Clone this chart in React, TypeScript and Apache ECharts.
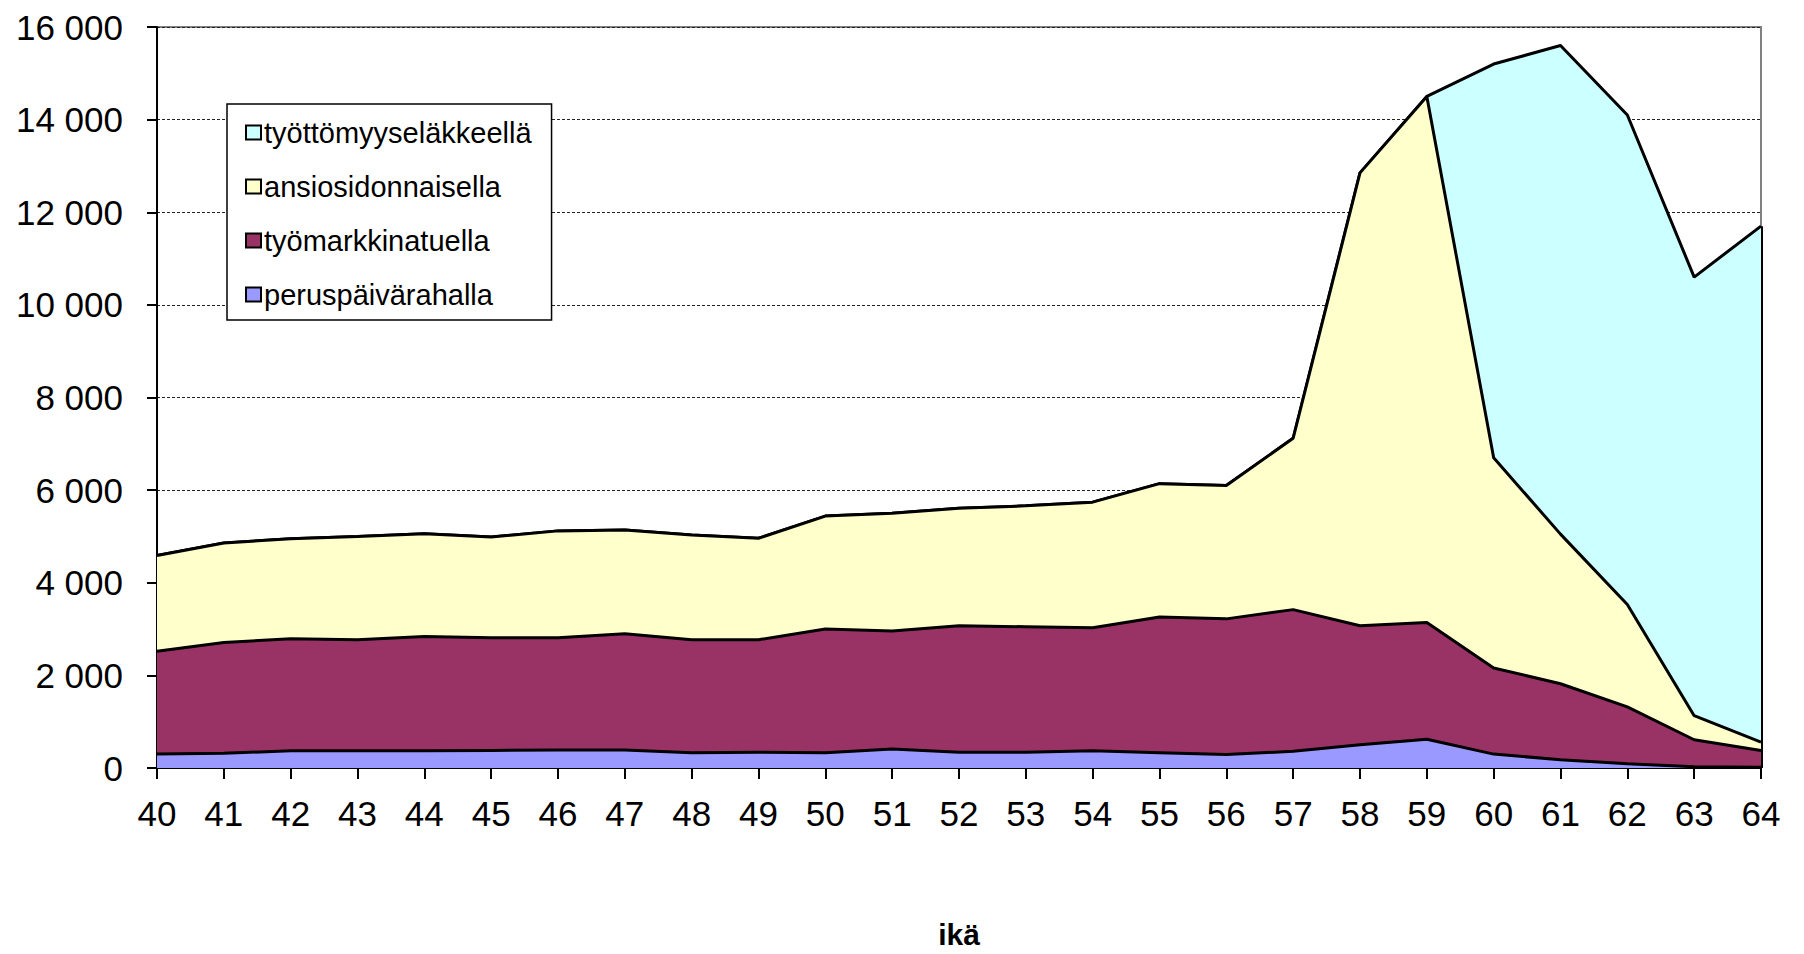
import React, { useEffect, useRef } from "react";
import * as echarts from "echarts";

const ages = ["40","41","42","43","44","45","46","47","48","49","50","51","52","53","54","55","56","57","58","59","60","61","62","63","64"];
const peruspaivarahalla = [300,320,370,370,370,380,390,390,330,340,330,410,340,340,370,330,290,360,500,620,300,180,90,25,15];
const tyomarkkinatuella = [2220,2390,2420,2400,2470,2430,2420,2510,2440,2430,2670,2550,2730,2710,2660,2930,2930,3060,2570,2520,1860,1640,1230,585,365];
const ansiosidonnaisella = [2070,2150,2160,2230,2220,2180,2310,2240,2260,2190,2440,2540,2540,2610,2710,2880,2880,3700,9780,11360,4540,3230,2210,520,180];
const tyottomyyselakkeella = [0,0,0,0,0,0,0,0,0,0,0,0,0,0,0,0,0,0,0,0,8500,10550,10570,9470,11140];

const seriesNames = ["peruspäivärahalla", "työmarkkinatuella", "ansiosidonnaisella", "työttömyyseläkkeellä"];
const seriesColors = ["#9999FF", "#993366", "#FFFFCC", "#CCFFFF"];
const yMin = 0;
const yMax = 16000;
const yInterval = 2000;
const xTitle = "ikä";

const FONT = "'Liberation Sans', Arial, sans-serif";

function fmt(v: number): string {
  return String(v).replace(/\B(?=(\d{3})+(?!\d))/g, " ");
}

export default function App() {
  const ref = useRef<HTMLDivElement>(null);
  useEffect(() => {
    if (!ref.current) return;
    const chart = echarts.init(ref.current, null, { renderer: "svg" });
    const dataSets = [peruspaivarahalla, tyomarkkinatuella, ansiosidonnaisella, tyottomyyselakkeella];
    const lastIdx = ages.length - 1;
    const lastTotal = dataSets.reduce((s, d) => s + d[lastIdx], 0);
    chart.setOption({
      animation: false,
      backgroundColor: "#ffffff",
      textStyle: { fontFamily: FONT },
      grid: {
        left: 157,
        right: 43,
        top: 27,
        bottom: 179,
        show: true,
        borderColor: "#808080",
        borderWidth: 2,
        backgroundColor: "transparent",
      },
      legend: {
        data: [seriesNames[3], seriesNames[2], seriesNames[1], seriesNames[0]],
        orient: "vertical",
        left: 227,
        top: 104,
        padding: [13, 20, 10, 18],
        itemGap: 23,
        itemWidth: 15,
        itemHeight: 14,
        backgroundColor: "#ffffff",
        borderColor: "#000000",
        borderWidth: 1.5,
        borderRadius: 0,
        icon: "rect",
        textStyle: { fontSize: 29, color: "#000", fontFamily: FONT, lineHeight: 31, padding: [0, 0, 0, -2] },
        itemStyle: { borderColor: "#000", borderWidth: 2 },
      },
      xAxis: {
        type: "category",
        data: ages,
        boundaryGap: false,
        name: xTitle,
        nameLocation: "middle",
        nameGap: 151,
        nameTextStyle: { fontSize: 30, fontWeight: "bold", color: "#000", fontFamily: FONT },
        axisLine: { lineStyle: { color: "#000", width: 2 } },
        axisTick: { show: true, length: 11, lineStyle: { color: "#000", width: 2 }, interval: 0 },
        axisLabel: { fontSize: 35, color: "#000", margin: 28, interval: 0, fontFamily: FONT },
        splitLine: { show: false },
      },
      yAxis: {
        type: "value",
        min: yMin,
        max: yMax,
        interval: yInterval,
        axisLine: { show: true, lineStyle: { color: "#000", width: 2 } },
        axisTick: { show: true, length: 10, lineStyle: { color: "#000", width: 2 } },
        axisLabel: { fontSize: 35, color: "#000", margin: 34, formatter: (v: number) => fmt(v), fontFamily: FONT },
        splitLine: { show: true, lineStyle: { color: "#222", width: 1.2, type: [3, 2] } },
      },
      series: dataSets.map((d, i) => ({
        name: seriesNames[i],
        type: "line",
        stack: "total",
        data: d,
        showSymbol: false,
        symbol: "none",
        lineStyle: { color: "#000", width: 3 },
        itemStyle: { color: seriesColors[i], borderColor: "#000", borderWidth: 2 },
        areaStyle: { color: seriesColors[i], opacity: 1 },
        z: 10 - i,
        markLine: i === 3 ? {
          silent: true,
          symbol: "none",
          label: { show: false },
          lineStyle: { color: "#000", width: 3, type: "solid" },
          data: [[{ xAxis: ages[lastIdx], yAxis: 0 }, { xAxis: ages[lastIdx], yAxis: lastTotal }]],
        } : undefined,
      })),
    });
    return () => chart.dispose();
  }, []);
  return <div ref={ref} style={{ position: "fixed", left: 0, top: 0, width: 1804, height: 954 }} />;
}
